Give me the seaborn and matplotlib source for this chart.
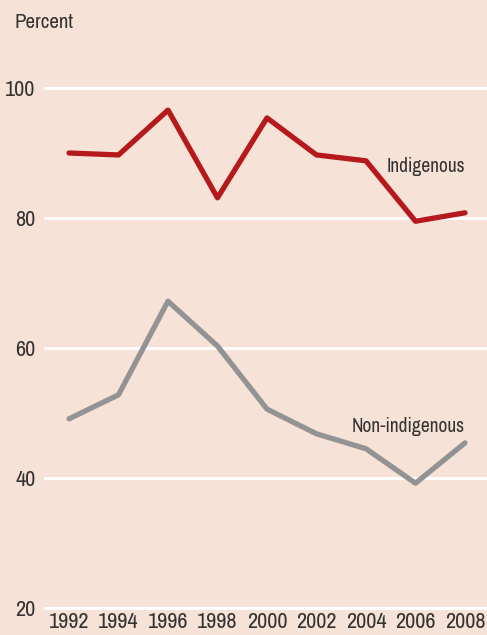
import matplotlib.pyplot as plt
import pandas as pd
import seaborn as sns
from matplotlib import font_manager

years = [1992, 1994, 1996, 1998, 2000, 2002, 2004, 2006, 2008]
indigenous = [90.0, 89.7, 96.6, 83.1, 95.4, 89.7, 88.8, 79.5, 80.8]
non_indigenous = [49.1, 52.8, 67.2, 60.3, 50.6, 46.8, 44.5, 39.2, 45.4]
y_ticks = [20, 40, 60, 80, 100]

BG = "#F7E2D8"
RED = "#B5191B"
GREY = "#939393"
TEXT = "#333333"

sns.set_theme(style="white")
# pick whatever narrow/condensed face is installed, DejaVu as fallback
names = sorted({f.name for f in font_manager.fontManager.ttflist})
narrow = [n for n in names if "Narrow" in n or "Condensed" in n]
plt.rcParams["font.family"] = narrow[:1] + ["DejaVu Sans"]
plt.rcParams["font.stretch"] = "condensed"

df = pd.DataFrame(
    {
        "year": years * 2,
        "value": indigenous + non_indigenous,
        "group": ["Indigenous"] * len(years) + ["Non-indigenous"] * len(years),
    }
)

fig = plt.figure(figsize=(4.87, 6.35), dpi=100, facecolor=BG)
ax = fig.add_axes([45 / 487, 1 - 608 / 635, 442 / 487, 520 / 635])
ax.set_facecolor(BG)

for y in y_ticks:
    ax.axhline(y, color="white", linewidth=2.2, zorder=1)

sns.lineplot(
    data=df,
    x="year",
    y="value",
    hue="group",
    palette={"Indigenous": RED, "Non-indigenous": GREY},
    linewidth=3.8,
    legend=False,
    ax=ax,
    zorder=3,
)
for line in ax.lines:
    line.set_clip_on(False)
    line.set_solid_capstyle("round")

ax.set_xlim(1991.03, 2008.89)
ax.set_ylim(20, 100)
ax.set_xticks(years)
ax.set_yticks(y_ticks)
ax.tick_params(axis="both", length=0, labelsize=16, labelcolor=TEXT)
ax.tick_params(axis="x", pad=3)
ax.tick_params(axis="y", pad=7)
ax.set_xlabel("")
ax.set_ylabel("")
for s in ax.spines.values():
    s.set_visible(False)

ax.text(2008.0, 88.0, "Indigenous", ha="right", va="center", fontsize=14, color=TEXT)
ax.text(2008.0, 47.9, "Non-indigenous", ha="right", va="center", fontsize=14, color=TEXT)
fig.text(14 / 487, 1 - 22 / 635, "Percent", ha="left", va="center", fontsize=15, color=TEXT)

fig.savefig("out.png", dpi=100, facecolor=BG)
